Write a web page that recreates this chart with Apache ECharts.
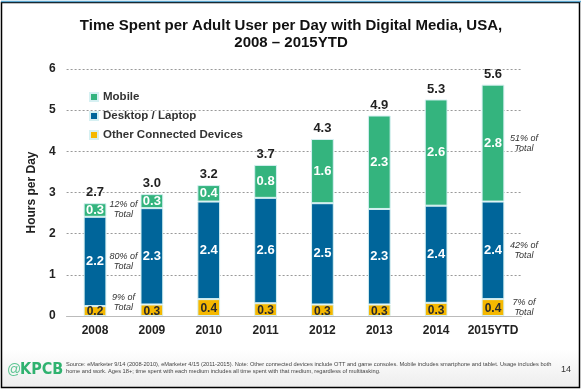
<!DOCTYPE html>
<html>
<head>
<meta charset="utf-8">
<script src="https://cdn.jsdelivr.net/npm/echarts@6/dist/echarts.min.js"></script>
<style>
html,body{margin:0;padding:0;background:#fff;}
#chart{width:582px;height:390px;}
</style>
</head>
<body>
<div id="chart"></div>
<script>
var categories = ['2008','2009','2010','2011','2012','2013','2014','2015YTD'];
var otherDevices = [0.24, 0.28, 0.41, 0.31, 0.28, 0.28, 0.32, 0.41];
var desktopLaptop = [2.17, 2.34, 2.37, 2.56, 2.46, 2.32, 2.36, 2.37];
var mobile = [0.33, 0.34, 0.40, 0.80, 1.56, 2.27, 2.58, 2.84];
var yTicks = [0, 1, 2, 3, 4, 5, 6];
var leftNotes = ['12% of\nTotal', '80% of\nTotal', '9% of\nTotal'];
var rightNotes = ['51% of\nTotal', '42% of\nTotal', '7% of\nTotal'];

var totals = categories.map(function (c, i) { return otherDevices[i] + desktopLaptop[i] + mobile[i]; });
function fmt(v) { return (Math.round(v * 10) / 10).toFixed(1); }

var chart = echarts.init(document.getElementById('chart'), null, {renderer: 'canvas'});
var FONT = '"Liberation Sans", Arial, sans-serif';

var option = {
  backgroundColor: '#ffffff',
  animation: false,
  textStyle: {fontFamily: FONT},
  title: {
    text: 'Time Spent per Adult User per Day with Digital Media, USA,\n2008 \u2013 2015YTD',
    left: 'center',
    top: 12,
    textStyle: {fontSize: 15, fontWeight: 'bold', color: '#111', lineHeight: 17.5, fontFamily: FONT}
  },
  legend: {
    data: ['Mobile', 'Desktop / Laptop', 'Other Connected Devices'],
    orient: 'vertical',
    left: 84,
    top: 85,
    itemWidth: 8,
    itemHeight: 8,
    itemGap: 5,
    icon: 'rect',
    textStyle: {fontSize: 11.5, fontWeight: 'bold', color: '#333', lineHeight: 14, fontFamily: FONT}
  },
  grid: {left: 66.6, right: 60.6, top: 69, bottom: 74},
  xAxis: {
    type: 'category',
    data: categories,
    axisLine: {lineStyle: {color: '#bbbbbb'}},
    axisTick: {lineStyle: {color: '#bbbbbb'}, length: 4},
    axisLabel: {interval: 0, fontSize: 12, fontWeight: 'bold', color: '#222', margin: 9, fontFamily: FONT}
  },
  yAxis: {
    type: 'value',
    min: yTicks[0],
    max: yTicks[yTicks.length - 1],
    interval: 1,
    name: 'Hours per Day',
    nameLocation: 'middle',
    nameGap: 25,
    nameTextStyle: {fontSize: 12, fontWeight: 'bold', color: '#222', fontFamily: FONT},
    axisLine: {show: false},
    axisTick: {show: false},
    axisLabel: {fontSize: 12, fontWeight: 'bold', color: '#222', margin: 11, fontFamily: FONT},
    splitLine: {lineStyle: {color: '#999', type: [2, 2], width: 1}}
  },
  series: [
    {
      name: 'Other Connected Devices', type: 'bar', stack: 'total', data: otherDevices,
      barWidth: '40%',
      itemStyle: {color: '#f5b800', borderColor: '#d6f0f2', borderWidth: 1},
      label: {show: true, position: 'inside', formatter: function (p) { return fmt(p.value); },
        fontSize: 12, fontWeight: 'bold', color: '#2a2a2a', offset: [0, 1], fontFamily: FONT}
    },
    {
      name: 'Desktop / Laptop', type: 'bar', stack: 'total', data: desktopLaptop,
      itemStyle: {color: '#00659a', borderColor: '#d6f0f2', borderWidth: 1},
      label: {show: true, position: 'inside', formatter: function (p) { return fmt(p.value); },
        fontSize: 13, fontWeight: 'bold', color: '#fff', fontFamily: FONT}
    },
    {
      name: 'Mobile', type: 'bar', stack: 'total', data: mobile,
      itemStyle: {color: '#34b47e', borderColor: '#d6f0f2', borderWidth: 1},
      label: {show: true, position: 'inside', formatter: function (p) { return fmt(p.value); },
        fontSize: 13, fontWeight: 'bold', color: '#fff', fontFamily: FONT}
    },
    {
      name: 'Total', type: 'bar', stack: 'total', data: categories.map(function () { return 0; }),
      itemStyle: {color: 'transparent'},
      label: {show: true, position: 'top', distance: 4, formatter: function (p) { return fmt(totals[p.dataIndex]); },
        fontSize: 13, fontWeight: 'bold', color: '#222', fontFamily: FONT},
      silent: true
    }
  ]
};
chart.setOption(option);

// annotation texts placed through the chart's own scales
function px(i, v) { return chart.convertToPixel({gridIndex: 0}, [i, v]); }
var noteStyle = {fontSize: 9, fontStyle: 'italic', fill: '#333', align: 'center', verticalAlign: 'middle', lineHeight: 10, fontFamily: FONT};
var g = [];
var lx = (px(0, 0)[0] + px(1, 0)[0]) / 2;
var lys = [otherDevices[0] + desktopLaptop[0] + mobile[0] / 2, otherDevices[0] + desktopLaptop[0] / 2, 0.32];
leftNotes.forEach(function (t, k) {
  g.push({type: 'text', x: lx, y: px(0, lys[k])[1], style: Object.assign({text: t}, noteStyle)});
});
var n = categories.length - 1;
var rx = px(n, 0)[0] + 31;
var rys = [otherDevices[n] + desktopLaptop[n] + mobile[n] / 2, otherDevices[n] + desktopLaptop[n] / 2, otherDevices[n] / 2];
rightNotes.forEach(function (t, k) {
  g.push({type: 'text', x: rx, y: px(n, rys[k])[1], style: Object.assign({text: t}, noteStyle)});
});
// footer band
g.push({type: 'rect', z: -10, shape: {x: 2, y: 350, width: 577, height: 37},
  style: {fill: new echarts.graphic.LinearGradient(0, 0, 0, 1, [{offset: 0, color: '#ffffff'}, {offset: 1, color: '#ededed'}])}});
g.push({type: 'text', x: 7, y: 370, style: {text: '@', fontSize: 14, fill: '#5cc592', verticalAlign: 'middle', fontFamily: FONT}});
g.push({type: 'text', x: 20, y: 370, style: {text: 'KPCB', fontSize: 16, fontWeight: 'bold', fill: '#2fb26f', verticalAlign: 'middle', fontFamily: '"Liberation Sans Narrow", "DejaVu Sans Condensed", sans-serif'}});
g.push({type: 'text', x: 66, y: 368, style: {
  text: 'Source: eMarketer 9/14 (2008-2010), eMarketer 4/15 (2011-2015). Note: Other connected devices include OTT and game consoles. Mobile includes smartphone and tablet. Usage includes both\nhome and work. Ages 18+; time spent with each medium includes all time spent with that medium, regardless of multitasking.',
  fontSize: 5.7, lineHeight: 7.5, fill: '#444', verticalAlign: 'middle', fontFamily: FONT}});
g.push({type: 'text', x: 571, y: 370, style: {text: '14', fontSize: 9, fill: '#333', align: 'right', verticalAlign: 'middle', fontFamily: FONT}});
// frame
g.push({type: 'rect', z: 100, shape: {x: 1.5, y: 2.5, width: 578, height: 385}, style: {fill: null, stroke: '#000', lineWidth: 1.5}});
g.push({type: 'line', z: 101, shape: {x1: 1, y1: 1.5, x2: 581, y2: 1.5}, style: {stroke: '#5aa6d0', lineWidth: 1.5}});
chart.setOption({graphic: g});
</script>
</body>
</html>
